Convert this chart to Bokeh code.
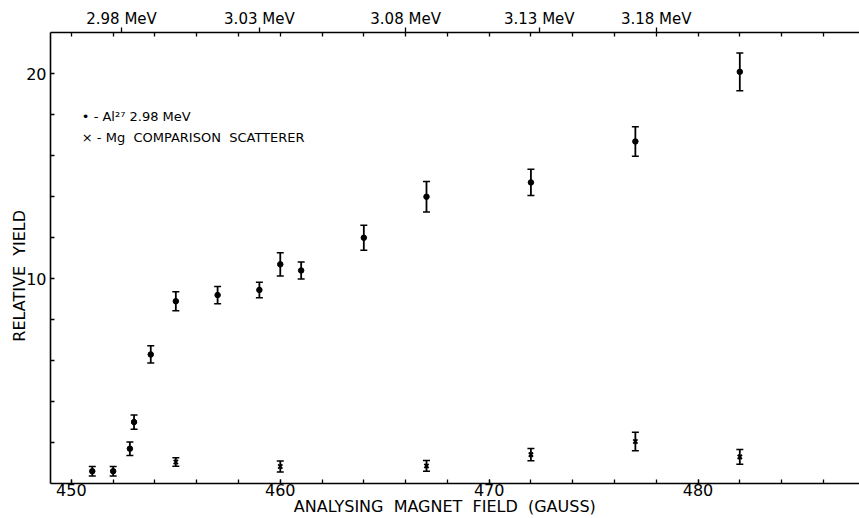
from bokeh.plotting import figure
from bokeh.models import (ColumnDataSource, Whisker, TeeHead, LinearAxis, FixedTicker,
                          Range1d, Label)
from bokeh.embed import file_html
from bokeh.resources import INLINE

# ---- data ----
al_field = [451, 452, 452.8, 453, 453.8, 455, 457, 459, 460, 461, 464, 467, 472, 477, 482]
al_yield = [0.6, 0.6, 1.7, 3.0, 6.3, 8.9, 9.2, 9.45, 10.7, 10.4, 12.0, 14.0, 14.7, 16.7, 20.1]
al_err = [0.23, 0.23, 0.33, 0.35, 0.42, 0.46, 0.42, 0.38, 0.57, 0.42, 0.61, 0.74, 0.64, 0.72, 0.92]

mg_field = [455, 460, 467, 472, 477, 482]
mg_yield = [1.05, 0.83, 0.86, 1.41, 2.05, 1.30]
mg_err = [0.21, 0.27, 0.26, 0.30, 0.45, 0.36]

x_major = [450, 460, 470, 480]
x_minor = list(range(450, 488, 2))
y_major = [10, 20]
y_minor = [2, 4, 6, 8, 12, 14, 16, 18]
energy_labels = ["2.98 MeV", "3.03 MeV", "3.08 MeV", "3.13 MeV", "3.18 MeV"]
energy_field = [452.4, 459.0, 466.0, 472.4, 478.0]

FONT = "DejaVu Sans"
SP = "\u00a0 "  # wide word spacing like the hand lettering

p = figure(width=859, height=518, output_backend="svg", toolbar_location=None,
           x_range=Range1d(449, 487.73), y_range=Range1d(0, 22.02),
           x_axis_location=None, y_axis_location=None,
           min_border_left=50, min_border_right=0, min_border_top=32, min_border_bottom=34)
p.outline_line_color = None
p.xgrid.visible = False
p.ygrid.visible = False
p.background_fill_color = "white"
p.border_fill_color = "white"

def style(ax, size="15px"):
    ax.axis_line_color = "black"
    ax.axis_line_width = 1.6
    ax.major_tick_line_color = "black"
    ax.minor_tick_line_color = "black"
    ax.major_tick_line_width = 1.3
    ax.minor_tick_line_width = 1.3
    ax.major_label_text_font = FONT
    ax.major_label_text_font_size = size
    ax.major_label_text_color = "black"
    ax.axis_label_text_font = FONT
    ax.axis_label_text_font_style = "normal"
    ax.axis_label_text_color = "black"

# bottom axis
xb = LinearAxis(ticker=FixedTicker(ticks=x_major, minor_ticks=x_minor),
                axis_label="ANALYSING" + SP + "MAGNET" + SP + "FIELD" + SP + "(GAUSS)" + "\u00a0" * 4)
style(xb, "16px")
xb.major_tick_in = 4; xb.major_tick_out = 0
xb.minor_tick_in = 4; xb.minor_tick_out = 0
xb.major_label_standoff = 0
xb.axis_label_standoff = -2
xb.axis_label_text_font_size = "16px"
p.add_layout(xb, "below")

# top axis (energies)
xt = LinearAxis(ticker=FixedTicker(ticks=energy_field, minor_ticks=x_minor),
                major_label_overrides={f: l for f, l in zip(energy_field, energy_labels)})
style(xt, "15px")
xt.major_tick_in = 0; xt.major_tick_out = 5
xt.minor_tick_in = 4; xt.minor_tick_out = 0
xt.major_label_standoff = 0
p.add_layout(xt, "above")

# left axis
yl = LinearAxis(ticker=FixedTicker(ticks=y_major, minor_ticks=y_minor),
                axis_label="RELATIVE" + SP + "YIELD" + "\u00a0" * 7)
style(yl, "16px")
yl.major_tick_in = 4; yl.major_tick_out = 0
yl.minor_tick_in = 4; yl.minor_tick_out = 0
yl.major_label_standoff = 4
yl.axis_label_standoff = -6
yl.axis_label_text_font_size = "16px"
p.add_layout(yl, "left")

# data
al = ColumnDataSource(dict(x=al_field, y=al_yield,
                           lo=[v - e for v, e in zip(al_yield, al_err)],
                           hi=[v + e for v, e in zip(al_yield, al_err)]))
mg = ColumnDataSource(dict(x=mg_field, y=mg_yield,
                           lo=[v - e for v, e in zip(mg_yield, mg_err)],
                           hi=[v + e for v, e in zip(mg_yield, mg_err)]))

for src in (al, mg):
    w = Whisker(base="x", lower="lo", upper="hi", source=src, dimension="height",
                line_color="black", line_width=1.8,
                lower_head=TeeHead(size=7, line_color="black", line_width=1.5),
                upper_head=TeeHead(size=7, line_color="black", line_width=1.5))
    p.add_layout(w)

p.scatter("x", "y", source=al, marker="circle", size=5.5, color="black")
p.scatter("x", "y", source=mg, marker="x", size=6, line_color="black", line_width=1.8)

# legend text
p.add_layout(Label(x=450.5, y=17.9, text="\u2022 - Al\u00b2\u2077 2.98 MeV", text_font=FONT,
                   text_font_size="13px", text_baseline="middle", text_color="black"))
p.add_layout(Label(x=450.5, y=16.9, text="\u00d7 - Mg" + SP + "COMPARISON" + SP + "SCATTERER",
                   text_font=FONT, text_font_size="13px", text_baseline="middle",
                   text_color="black"))

open("out.html", "w").write(file_html(p, INLINE))
